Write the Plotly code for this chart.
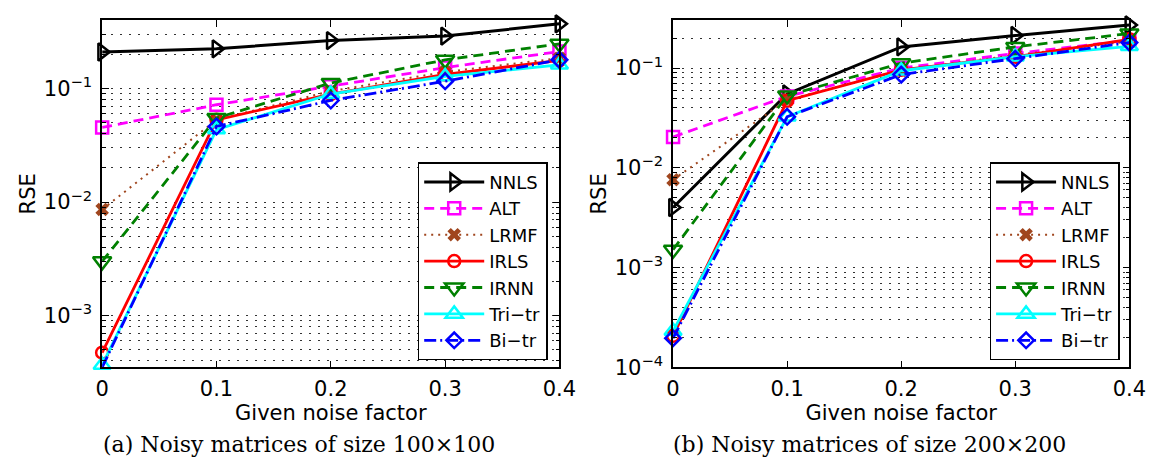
import plotly.graph_objects as go

# ---------------- data ----------------
noise = [0, 0.1, 0.2, 0.3, 0.4]
x_ticks = [0, 0.1, 0.2, 0.3, 0.4]
x_ticktext = ["0", "0.1", "0.2", "0.3", "0.4"]

methods = ["NNLS", "ALT", "LRMF", "IRLS", "IRNN", "Tri\u2212tr", "Bi\u2212tr"]

# (a) 100 x 100
rse_a_nnls = [0.210, 0.224, 0.265, 0.290, 0.372]
rse_a_alt = [0.0454, 0.072, 0.105, 0.153, 0.212]
rse_a_lrmf = [0.0086, 0.053, 0.095, 0.140, 0.185]
rse_a_irls = [0.00047, 0.053, 0.0895, 0.133, 0.177]
rse_a_irnn = [0.0030, 0.055, 0.112, 0.179, 0.248]
rse_a_tri = [0.000366, 0.0435, 0.0895, 0.128, 0.162]
rse_a_bi = [0.000349, 0.0463, 0.0785, 0.116, 0.179]

# (b) 200 x 200
rse_b_nnls = [0.0040, 0.055, 0.163, 0.212, 0.270]
rse_b_alt = [0.0204, 0.052, 0.100, 0.140, 0.190]
rse_b_lrmf = [0.0076, 0.048, 0.095, 0.135, 0.185]
rse_b_irls = [0.000207, 0.047, 0.096, 0.130, 0.194]
rse_b_irnn = [0.00151, 0.053, 0.112, 0.163, 0.222]
rse_b_tri = [0.000231, 0.0325, 0.094, 0.130, 0.165]
rse_b_bi = [0.000196, 0.0325, 0.086, 0.124, 0.180]

y_tickvals = [1e-4, 1e-3, 1e-2, 1e-1]
y_ticktext = ["10<sup>\u22124</sup>", "10<sup>\u22123</sup>", "10<sup>\u22122</sup>", "10<sup>\u22121</sup>"]

captions = ["(a) Noisy matrices of size 100\u00d7100", "(b) Noisy matrices of size 200\u00d7200"]

# ---------------- styles ----------------
styles = [
    dict(color="#000000", dash="solid", width=3, symbol="triangle-right-open", size=15),
    dict(color="#FF00FF", dash="10px,6px", width=2.8, symbol="square-open", size=12),
    dict(color="#A0461E", dash="2px,5px", width=2, symbol="x", size=12),
    dict(color="#FF0000", dash="solid", width=2.8, symbol="circle-open", size=12),
    dict(color="#008000", dash="10px,6px", width=2.8, symbol="triangle-down-open", size=16),
    dict(color="#00FFFF", dash="solid", width=2.8, symbol="triangle-up-open", size=15),
    dict(color="#0000FF", dash="12px,4px,2px,4px", width=2.8, symbol="diamond-open", size=12),
]

series_a = [rse_a_nnls, rse_a_alt, rse_a_lrmf, rse_a_irls, rse_a_irnn, rse_a_tri, rse_a_bi]
series_b = [rse_b_nnls, rse_b_alt, rse_b_lrmf, rse_b_irls, rse_b_irnn, rse_b_tri, rse_b_bi]

fig = go.Figure()

for series, xa, ya, lg in [(series_a, "x", "y", "legend"), (series_b, "x2", "y2", "legend2")]:
    for name, vals, st in zip(methods, series, styles):
        mline = dict(color=st["color"], width=2.5 if st["symbol"] != "x" else 0)
        fig.add_trace(go.Scatter(
            x=noise, y=vals, name=name, mode="lines+markers",
            xaxis=xa, yaxis=ya, legend=lg, cliponaxis=False,
            line=dict(color=st["color"], dash=st["dash"], width=st["width"]),
            marker=dict(symbol=st["symbol"], size=st["size"], color=st["color"], line=mline),
        ))

W, H = 1156, 459
def px(v):
    return v / W
def py(v):
    return 1 - v / H

FONT = "DejaVu Sans"
axis_font = dict(family=FONT, size=21, color="black")
title_font = dict(family=FONT, size=21, color="black")
grid_dash = "1.5px,7.5px"
grid_color = "#333333"

common_x = dict(
    type="linear", range=[0, 0.4], tickvals=x_ticks, ticktext=x_ticktext,
    ticks="inside", ticklen=7, tickwidth=1.2, tickcolor="black",
    showline=True, linecolor="black", linewidth=1.5, mirror="ticks",
    showgrid=False, zeroline=False, tickfont=axis_font, ticklabelstandoff=2,
    title=dict(text="Given noise factor", font=title_font, standoff=2),
)
common_y = dict(
    type="log", tickvals=y_tickvals, ticktext=y_ticktext,
    ticks="inside", ticklen=7, tickwidth=1.2, tickcolor="black",
    showline=True, linecolor="black", linewidth=1.5, mirror="ticks",
    showgrid=True, gridcolor=grid_color, gridwidth=1, griddash=grid_dash,
    zeroline=False, tickfont=axis_font, ticklabelstandoff=4,
    minor=dict(dtick="D1", ticks="inside", ticklen=4, tickcolor="black", tickwidth=1,
               showgrid=True, gridcolor=grid_color, gridwidth=1, griddash=grid_dash),
    title=dict(text="RSE", font=title_font, standoff=2),
)

legend_common = dict(
    bgcolor="white", bordercolor="black", borderwidth=1.5,
    font=dict(family=FONT, size=18, color="black"),
    itemwidth=60, tracegroupgap=0, yanchor="middle", xanchor="right",
    itemclick=False, itemdoubleclick=False,
)

fig.update_layout(
    width=W, height=H, autosize=False,
    margin=dict(l=0, r=0, t=0, b=0),
    paper_bgcolor="white", plot_bgcolor="white",
    xaxis=dict(common_x, domain=[px(89), px(556)], anchor="y"),
    yaxis=dict(common_y, domain=[py(369), py(12.7)], range=[-3.457, -0.399], anchor="x"),
    xaxis2=dict(common_x, domain=[px(672), px(1138)], anchor="y2"),
    yaxis2=dict(common_y, domain=[py(369), py(12.7)], range=[-4.0, -0.522], anchor="x2"),
    legend=dict(legend_common, x=px(544), y=py(260)),
    legend2=dict(legend_common, x=px(1128), y=py(260)),
    showlegend=True,
)

for cx, text in zip([290, 873], captions):
    fig.add_annotation(
        text=text, xref="paper", yref="paper", x=px(cx), y=py(448),
        xanchor="center", yanchor="middle", showarrow=False,
        font=dict(family="DejaVu Serif", size=22, color="black"),
    )

fig.write_html("out.html")
